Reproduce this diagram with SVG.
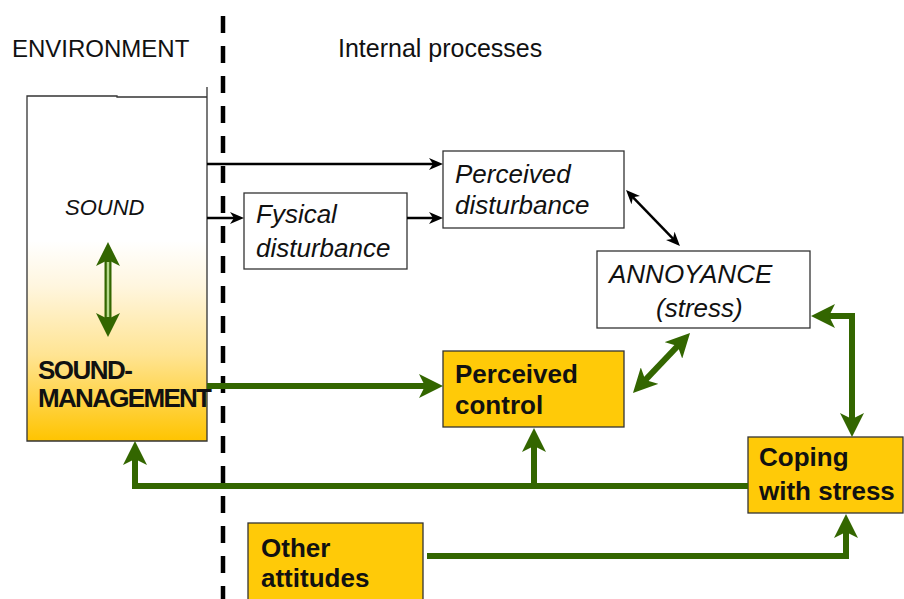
<svg xmlns="http://www.w3.org/2000/svg" width="904" height="599" viewBox="0 0 904 599">
<defs>
<style>
.box{stroke:#333;stroke-width:1.3}
.wb{fill:#fff}
.gb{fill:#FFCA08}
.it{font-family:"Liberation Sans",Arial,sans-serif;font-style:italic;font-size:26px;fill:#111}
.bd{font-family:"Liberation Sans",Arial,sans-serif;font-weight:bold;font-size:26px;fill:#111}
.hd{font-family:"Liberation Sans",Arial,sans-serif;fill:#111}
.g{fill:none;stroke:#336600;stroke-width:6}
.k{fill:none;stroke:#000;stroke-width:2.5}
</style>
<linearGradient id="grad" x1="0" y1="0" x2="0" y2="1">
<stop offset="0" stop-color="#fff"/>
<stop offset="0.42" stop-color="#fff"/>
<stop offset="0.55" stop-color="#FFF6DF"/>
<stop offset="0.75" stop-color="#FFE493"/>
<stop offset="1" stop-color="#FFC400"/>
</linearGradient>
<marker id="ga" markerUnits="userSpaceOnUse" viewBox="0 0 24 24" markerWidth="24" markerHeight="24" refX="10" refY="12" orient="auto-start-reverse">
<path d="M24,12 L0,0 L6,12 L0,24 Z" fill="#336600"/>
</marker>
<marker id="ka" markerUnits="userSpaceOnUse" viewBox="0 0 14 12" markerWidth="14" markerHeight="12" refX="6" refY="6" orient="auto-start-reverse">
<path d="M14,6 L0,0 L4,6 L0,12 Z" fill="#000"/>
</marker>
</defs>
<rect width="904" height="599" fill="#fff"/>

<g id="headers">
<text class="hd" x="12" y="57" font-size="24">ENVIRONMENT</text>
<text class="hd" x="338" y="57" font-size="25">Internal processes</text>
</g>

<g id="divider">
<line x1="223" y1="16" x2="223" y2="599" stroke="#000" stroke-width="4.5" stroke-dasharray="17 13"/>
</g>

<g id="environment">
<rect x="27" y="96" width="180" height="345" fill="url(#grad)"/>
<path d="M207,87 V441 H27 V96 H117 V97 H207" fill="none" stroke="#333" stroke-width="1.3"/>
<text class="hd" x="65" y="215" font-size="22" font-style="italic">SOUND</text>
<text class="bd" x="38" y="379" font-size="23" textLength="95" lengthAdjust="spacing">SOUND-</text>
<text class="bd" x="38" y="407" font-size="23" textLength="174" lengthAdjust="spacing">MANAGEMENT</text>
</g>

<g id="fysical">
<rect class="box wb" x="244" y="193" width="163" height="76"/>
<text class="it" x="256" y="223">Fysical</text>
<text class="it" x="256" y="257">disturbance</text>
</g>

<g id="perceived-disturbance">
<rect class="box wb" x="443" y="151" width="181" height="77"/>
<text class="it" x="455" y="183">Perceived</text>
<text class="it" x="455" y="214">disturbance</text>
</g>

<g id="annoyance">
<rect class="box wb" x="597" y="251" width="213" height="77"/>
<text class="it" x="609" y="283">ANNOYANCE</text>
<text class="it" x="656" y="317">(stress)</text>
</g>

<g id="perceived-control">
<rect class="box gb" x="443" y="351" width="181" height="76"/>
<text class="bd" x="455" y="383">Perceived</text>
<text class="bd" x="455" y="414">control</text>
</g>

<g id="coping">
<rect class="box gb" x="748" y="437" width="155" height="76"/>
<text class="bd" x="759" y="466">Coping</text>
<text class="bd" x="759" y="500">with stress</text>
</g>

<g id="other-attitudes">
<rect class="box gb" x="248" y="523" width="175" height="80"/>
<text class="bd" x="261" y="557">Other</text>
<text class="bd" x="261" y="587">attitudes</text>
</g>

<g id="connectors">
<path class="k" d="M207,164 H435" marker-end="url(#ka)"/>
<path class="k" d="M207,218 H236" marker-end="url(#ka)"/>
<path class="k" d="M407,218 H435" marker-end="url(#ka)"/>
<path class="k" d="M631.6,195.8 L674.4,240.2" marker-start="url(#ka)" marker-end="url(#ka)"/>

<path d="M108,256 V323" fill="none" stroke="#336600" stroke-width="7" marker-start="url(#ga)" marker-end="url(#ga)"/>
<path d="M108,262 V317" fill="none" stroke="#B5D98A" stroke-width="2.5"/>

<path class="g" d="M207,386 H429" marker-end="url(#ga)"/>
<path class="g" d="M748,486 H135 V455" marker-end="url(#ga)"/>
<path class="g" d="M534,486 V442" marker-end="url(#ga)"/>
<path class="g" d="M825,316 H852 V423" marker-start="url(#ga)" marker-end="url(#ga)"/>
<path class="g" d="M427,556 H846 V528" marker-end="url(#ga)"/>
<path class="g" d="M642.6,382.9 L680.4,343.1" marker-start="url(#ga)" marker-end="url(#ga)"/>
</g>
</svg>
